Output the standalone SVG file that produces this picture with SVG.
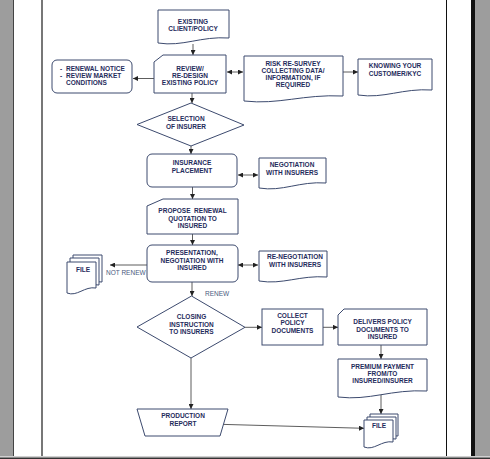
<svg xmlns="http://www.w3.org/2000/svg" width="490" height="459" viewBox="0 0 490 459">
<style>
.s{fill:#fff;stroke:#3c4a6e;stroke-width:1}
.t{font-family:"Liberation Sans",Arial,sans-serif;font-weight:bold;font-size:6.5px;fill:#1f2c5c;text-anchor:middle}
.l{font-family:"Liberation Sans",Arial,sans-serif;font-size:6.5px;fill:#4a5a80}
.c{fill:none;stroke:#333;stroke-width:0.8}
</style>
<defs>
<marker id="a" viewBox="0 0 6 6" refX="6" refY="3" markerWidth="5" markerHeight="5" orient="auto" markerUnits="userSpaceOnUse">
<path d="M0,0 L6,3 L0,6 Z" fill="#222"/>
</marker>
<marker id="b" viewBox="0 0 6 6" refX="0" refY="3" markerWidth="5" markerHeight="5" orient="auto" markerUnits="userSpaceOnUse">
<path d="M6,0 L0,3 L6,6 Z" fill="#222"/>
</marker>
</defs>
<g id="page">
<rect x="0" y="0" width="490" height="459" fill="#fff"/>
<rect x="0" y="0" width="13" height="456" fill="#9d9d9d"/>
<rect x="13" y="0" width="1" height="456" fill="#444"/>
<rect x="41" y="0" width="2" height="456" fill="#777"/>
<rect x="446" y="0" width="1" height="456" fill="#111"/>
<rect x="471" y="0" width="4" height="456" fill="#111"/>
<rect x="475" y="0" width="15" height="456" fill="#9d9d9d"/>
<rect x="0" y="456" width="490" height="1.5" fill="#d0d0d0"/>
<rect x="0" y="457.5" width="490" height="1.5" fill="#333"/>
</g>
<g id="connectors">
<line class="c" x1="193" y1="44" x2="193" y2="55" marker-end="url(#a)"/>
<line class="c" x1="154" y1="78.5" x2="133" y2="78.5" marker-end="url(#a)"/>
<line class="c" x1="227" y1="72" x2="243" y2="72" marker-start="url(#b)" marker-end="url(#a)"/>
<line class="c" x1="343" y1="72" x2="358" y2="72" marker-end="url(#a)"/>
<line class="c" x1="192" y1="93" x2="192" y2="103" marker-end="url(#a)"/>
<line class="c" x1="191" y1="146" x2="191" y2="154" marker-end="url(#a)"/>
<line class="c" x1="238" y1="175" x2="258" y2="175" marker-start="url(#b)" marker-end="url(#a)"/>
<line class="c" x1="192.5" y1="187" x2="192.5" y2="199" marker-end="url(#a)"/>
<line class="c" x1="192.5" y1="234" x2="192.5" y2="245" marker-end="url(#a)"/>
<line class="c" x1="147" y1="265" x2="110" y2="265" marker-end="url(#a)"/>
<line class="c" x1="238" y1="265" x2="258" y2="265" marker-start="url(#b)" marker-end="url(#a)"/>
<line class="c" x1="192" y1="282" x2="192" y2="296" marker-end="url(#a)"/>
<line class="c" x1="245" y1="327.3" x2="262" y2="327.3" marker-end="url(#a)"/>
<line class="c" x1="323" y1="327.3" x2="338" y2="327.3" marker-end="url(#a)"/>
<line class="c" x1="381" y1="345" x2="381" y2="359" marker-end="url(#a)"/>
<line class="c" x1="381" y1="393" x2="381" y2="414" marker-end="url(#a)"/>
<line class="c" x1="191" y1="358" x2="191" y2="409" marker-end="url(#a)"/>
<line class="c" x1="220" y1="424.3" x2="364" y2="428.3" marker-end="url(#a)"/>
<text class="l" x="106" y="275">NOT RENEW</text>
<text class="l" x="205" y="296">RENEW</text>
</g>
<g id="existing">
<path class="s" d="M158,10 H229 V38 C200.6,36 182.9,47 158,43 Z"/>
<text class="t" x="193" y="24">EXISTING</text>
<text class="t" x="193" y="31">CLIENT/POLICY</text>
</g>
<g id="review">
<path class="s" d="M154,62 L163,55 H226 V93 H154 Z"/>
<text class="t" x="190" y="71">REVIEW/</text>
<text class="t" x="190" y="78">RE-DESIGN</text>
<text class="t" x="190" y="85">EXISTING POLICY</text>
</g>
<g id="renewal">
<rect class="s" x="52" y="60" width="80" height="33" rx="5"/>
<text class="t" x="60" y="71" style="text-anchor:start">-</text>
<text class="t" x="66" y="71" style="text-anchor:start">RENEWAL NOTICE</text>
<text class="t" x="60" y="78" style="text-anchor:start">-</text>
<text class="t" x="66" y="78" style="text-anchor:start">REVIEW MARKET</text>
<text class="t" x="66" y="85" style="text-anchor:start">CONDITIONS</text>
</g>
<g id="risk">
<path class="s" d="M244,56 H343 V96 C303.4,94 278.7,105 244,101 Z"/>
<text class="t" x="293" y="65.5">RISK RE-SURVEY</text>
<text class="t" x="293" y="72.8">COLLECTING DATA/</text>
<text class="t" x="293" y="80">INFORMATION, IF</text>
<text class="t" x="293" y="87.2">REQUIRED</text>
</g>
<g id="kyc">
<path class="s" d="M358,59 H432 V90 C402.4,88 383.9,99 358,95 Z"/>
<text class="t" x="395" y="68">KNOWING YOUR</text>
<text class="t" x="395" y="76">CUSTOMER/KYC</text>
</g>
<g id="selection">
<path class="s" d="M137,124.5 L191,103 L244,125 L191,146 Z"/>
<text class="t" x="186" y="121">SELECTION</text>
<text class="t" x="186" y="128.5">OF INSURER</text>
</g>
<g id="placement">
<rect class="s" x="147" y="154" width="90" height="33" rx="5"/>
<text class="t" x="192" y="165">INSURANCE</text>
<text class="t" x="192" y="172.5">PLACEMENT</text>
</g>
<g id="negotiation">
<path class="s" d="M259,158 H326 V183 C299.2,181 282.5,192 259,188 Z"/>
<text class="t" x="292" y="167">NEGOTIATION</text>
<text class="t" x="292" y="175">WITH INSURERS</text>
</g>
<g id="propose">
<path class="s" d="M147,206 L163,199 H238 V234 H147 Z"/>
<text class="t" x="192.5" y="213" xml:space="preserve">PROPOSE  RENEWAL</text>
<text class="t" x="192.5" y="220.5">QUOTATION TO</text>
<text class="t" x="192.5" y="228">INSURED</text>
</g>
<g id="presentation">
<rect class="s" x="147" y="245" width="91" height="37" rx="5"/>
<text class="t" x="192" y="255">PRESENTATION,</text>
<text class="t" x="192" y="262.5">NEGOTIATION WITH</text>
<text class="t" x="192" y="270">INSURED</text>
</g>
<g id="file-left">
<path class="s" d="M73,255 H102 V282 C90.4,280 83.2,290 73,286 Z"/>
<path class="s" d="M70,258 H99 V285 C87.4,283 80.2,293 70,289 Z"/>
<path class="s" d="M67,262 H96 V288 C84.4,286 77.2,297 67,293 Z"/>
<text class="t" x="83" y="272">FILE</text>
</g>
<g id="renegotiation">
<path class="s" d="M259,251 H327 V277 C299.8,275 282.8,285 259,281 Z"/>
<text class="t" x="295" y="259">RE-NEGOTIATION</text>
<text class="t" x="295" y="266.7">WITH INSURERS</text>
</g>
<g id="closing">
<path class="s" d="M137,327 L191.5,296 L245,327.3 L191,358 Z"/>
<text class="t" x="191.5" y="318.7">CLOSING</text>
<text class="t" x="191.5" y="326.5">INSTRUCTION</text>
<text class="t" x="191.5" y="334">TO INSURERS</text>
</g>
<g id="collect">
<rect class="s" x="262" y="309" width="61" height="36"/>
<text class="t" x="292.5" y="317.5">COLLECT</text>
<text class="t" x="292.5" y="325">POLICY</text>
<text class="t" x="292.5" y="332.8">DOCUMENTS</text>
</g>
<g id="delivers">
<path class="s" d="M338,315 L344,309 H427 V345 H338 Z"/>
<text class="t" x="382.5" y="324">DELIVERS POLICY</text>
<text class="t" x="382.5" y="331.7">DOCUMENTS TO</text>
<text class="t" x="382.5" y="339.2">INSURED</text>
</g>
<g id="premium">
<path class="s" d="M338,359 H427 V391 C391.4,389 369.2,401 338,397 Z"/>
<text class="t" x="382.5" y="368.7">PREMIUM PAYMENT</text>
<text class="t" x="382.5" y="376">FROM/TO</text>
<text class="t" x="382.5" y="383.3">INSURED/INSURER</text>
</g>
<g id="production">
<path class="s" d="M137,409 H228 L220,436 H145 Z"/>
<text class="t" x="183" y="418">PRODUCTION</text>
<text class="t" x="183" y="426">REPORT</text>
</g>
<g id="file-right">
<path class="s" d="M370,414 H398 V436 C386.8,434 379.8,445 370,441 Z"/>
<path class="s" d="M367,417 H396 V439 C384.4,437 377.2,448 367,444 Z"/>
<path class="s" d="M364,420 H393 V442 C381.4,440 374.2,451 364,447 Z"/>
<text class="t" x="379" y="428">FILE</text>
</g>
</svg>
